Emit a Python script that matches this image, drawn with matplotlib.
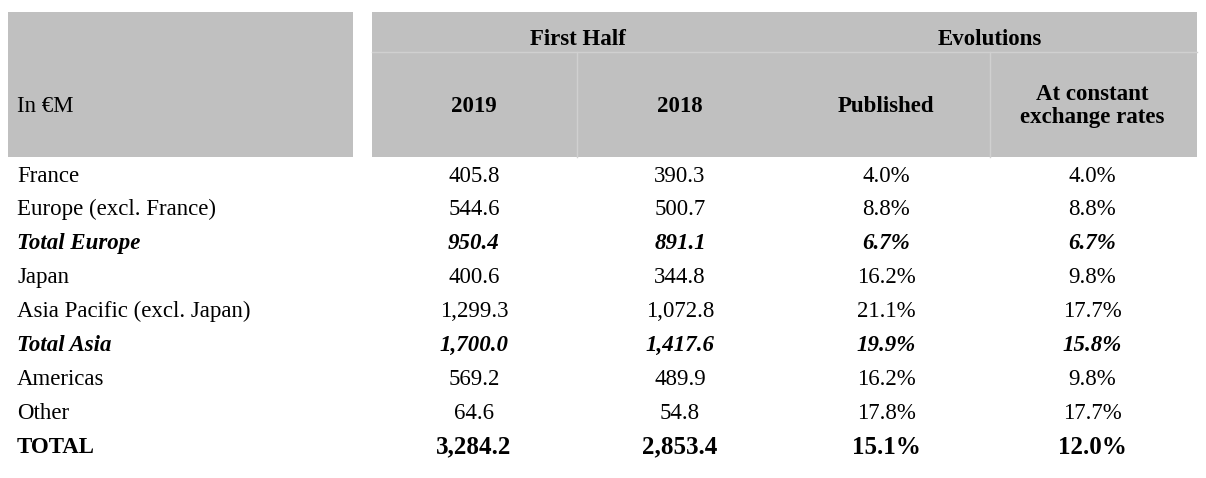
import matplotlib.pyplot as plt
from matplotlib.patches import Rectangle

rows = ['France', 'Europe (excl. France)', 'Total Europe', 'Japan', 'Asia Pacific (excl. Japan)',
        'Total Asia', 'Americas', 'Other', 'TOTAL']
h2019 = ['405.8', '544.6', '950.4', '400.6', '1,299.3', '1,700.0', '569.2', '64.6', '3,284.2']
h2018 = ['390.3', '500.7', '891.1', '344.8', '1,072.8', '1,417.6', '489.9', '54.8', '2,853.4']
published = ['4.0%', '8.8%', '6.7%', '16.2%', '21.1%', '19.9%', '16.2%', '17.8%', '15.1%']
constant = ['4.0%', '8.8%', '6.7%', '9.8%', '17.7%', '15.8%', '9.8%', '17.7%', '12.0%']
subtotal = ['Total Europe', 'Total Asia']

W, H = 1206, 478
fig = plt.figure(figsize=(W / 100, H / 100), dpi=100)
ax = fig.add_axes([0, 0, 1, 1])
ax.set_xlim(0, W)
ax.set_ylim(H, 0)
ax.axis('off')
plt.rcParams['font.family'] = 'Liberation Serif'

grey = '#c0c0c0'
ax.add_patch(Rectangle((8, 12), 345, 145, color=grey, lw=0))
ax.add_patch(Rectangle((372, 12), 825, 145, color=grey, lw=0))
ax.plot([372, 1197], [52, 52], color='#d0d0d0', lw=1)
ax.plot([577, 577], [52, 157], color='#d0d0d0', lw=1)
ax.plot([990, 990], [52, 157], color='#d0d0d0', lw=1)

fs = 16.5
ax.text(578, 39, 'First Half', ha='center', va='center', fontsize=fs, weight='bold')
ax.text(990, 39, 'Evolutions', ha='center', va='center', fontsize=fs, weight='bold')
ax.text(17, 106, 'In €M', ha='left', va='center', fontsize=fs)
cols = [474, 680, 886, 1092]
for x, lab in zip(cols, ['2019', '2018', 'Published', 'At constant\nexchange rates']):
    ax.text(x, 106, lab, ha='center', va='center', fontsize=fs, weight='bold', linespacing=1.1)

y0, dy = 176, 33.9
for i, r in enumerate(rows):
    y = y0 + i * dy
    if r in subtotal:
        kw = dict(weight='bold', style='italic')
    elif r == 'TOTAL':
        kw = dict(weight='bold')
    else:
        kw = {}
    sz = fs + 1.5 if r == 'TOTAL' else fs
    ax.text(17, y, r, ha='left', va='center', fontsize=sz if r != 'TOTAL' else fs, **kw)
    for x, v in zip(cols, [h2019[i], h2018[i], published[i], constant[i]]):
        ax.text(x, y, v, ha='center', va='center', fontsize=sz, **kw)

fig.savefig('out.png', dpi=100)
